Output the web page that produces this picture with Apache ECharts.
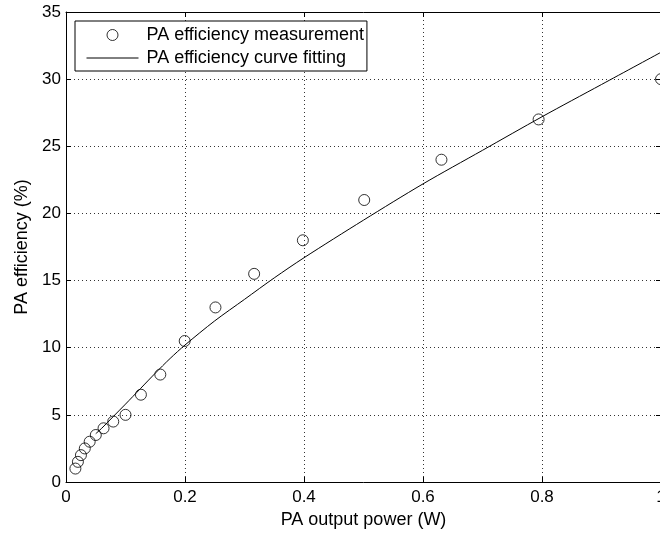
<!DOCTYPE html>
<html>
<head>
<meta charset="utf-8">
<script src="https://cdn.jsdelivr.net/npm/echarts@6/dist/echarts.min.js"></script>
<style>
  html, body { margin: 0; padding: 0; background: #fff; }
  #chart { width: 660px; height: 533px; }
</style>
</head>
<body>
<div id="chart"></div>
<script>
// Measured PA efficiency at each output power step (W, %)
const measPower = [0.0158, 0.0200, 0.0251, 0.0316, 0.0398, 0.0501, 0.0631, 0.0794, 0.1000,
                   0.1259, 0.1585, 0.1995, 0.2512, 0.3162, 0.3981, 0.5012, 0.6310, 0.7943, 1.0000];
const measEff = [1, 1.5, 2, 2.5, 3, 3.5, 4, 4.5, 5,
                 6.5, 8, 10.5, 13, 15.5, 18, 21, 24, 27, 30];

// Fitted efficiency curve samples (W, %)
const fitPower = [0.05, 0.06, 0.08, 0.10, 0.125, 0.15, 0.175, 0.20, 0.25, 0.30, 0.35,
                  0.40, 0.50, 0.60, 0.70, 0.80, 0.90, 1.00];
const fitEff = [3.6, 4.0, 4.9, 5.8, 6.95, 8.1, 9.2, 10.2, 12.0, 13.6, 15.2,
                16.7, 19.5, 22.2, 24.7, 27.2, 29.6, 32.0];

// Axis ticks
const xTicks = { min: 0, max: 1, interval: 0.2 };
const yTicks = { min: 0, max: 35, interval: 5 };

const seriesNames = ['PA efficiency measurement', 'PA efficiency curve fitting'];
const xTitle = 'PA output power (W)';
const yTitle = 'PA efficiency (%)';

const FONT = 'Liberation Sans, Arial, Helvetica, sans-serif';

const gridLine = { show: true, lineStyle: { color: '#333', width: 1, type: [1, 3] } };
const boxLine = { show: true, onZero: false, lineStyle: { color: '#000', width: 1 } };
const inTick = { show: true, inside: true, length: 5, lineStyle: { color: '#000', width: 1 } };

const chart = echarts.init(document.getElementById('chart'), null, { renderer: 'canvas' });

chart.setOption({
  backgroundColor: '#fff',
  animation: false,
  textStyle: { fontFamily: FONT },
  grid: { left: 66, top: 12, width: 595, height: 470, containLabel: false, outerBoundsMode: 'none' },
  legend: {
    orient: 'vertical',
    left: 75,
    top: 21,
    padding: [4, 3, 3, 11],
    itemGap: 3,
    itemWidth: 52,
    itemHeight: 11,
    borderColor: '#000',
    borderWidth: 1,
    backgroundColor: '#fff',
    selectedMode: false,
    textStyle: { fontFamily: FONT, fontSize: 18, color: '#000', lineHeight: 20, padding: [0, 0, 0, 3] },
    data: [
      { name: seriesNames[0], icon: 'circle',
        itemStyle: { color: 'rgba(0,0,0,0)', borderColor: '#000', borderWidth: 1 } },
      { name: seriesNames[1],
        itemStyle: { color: 'rgba(0,0,0,0)', borderColor: 'rgba(0,0,0,0)', borderWidth: 0 },
        lineStyle: { color: '#000', width: 1 } }
    ]
  },
  xAxis: [
    {
      type: 'value',
      position: 'bottom',
      min: xTicks.min, max: xTicks.max, interval: xTicks.interval,
      name: xTitle,
      nameLocation: 'middle',
      nameGap: 29,
      nameTextStyle: { fontFamily: FONT, fontSize: 18, color: '#000' },
      axisLine: boxLine,
      axisTick: inTick,
      axisLabel: { fontFamily: FONT, fontSize: 17, color: '#000', margin: 7 },
      splitLine: gridLine
    },
    {
      type: 'value',
      position: 'top',
      min: xTicks.min, max: xTicks.max, interval: xTicks.interval,
      axisLine: boxLine,
      axisTick: inTick,
      axisLabel: { show: false },
      splitLine: { show: false }
    }
  ],
  yAxis: [
    {
      type: 'value',
      position: 'left',
      min: yTicks.min, max: yTicks.max, interval: yTicks.interval,
      name: yTitle,
      nameLocation: 'middle',
      nameGap: 34,
      nameTextStyle: { fontFamily: FONT, fontSize: 18, color: '#000' },
      axisLine: boxLine,
      axisTick: inTick,
      axisLabel: { fontFamily: FONT, fontSize: 17, color: '#000', margin: 5 },
      splitLine: gridLine
    },
    {
      type: 'value',
      position: 'right',
      min: yTicks.min, max: yTicks.max, interval: yTicks.interval,
      axisLine: boxLine,
      axisTick: inTick,
      axisLabel: { show: false },
      splitLine: { show: false }
    }
  ],
  series: [
    {
      name: seriesNames[0],
      type: 'scatter',
      xAxisIndex: 0,
      yAxisIndex: 0,
      symbol: 'circle',
      symbolSize: 11,
      symbolKeepAspect: true,
      itemStyle: { color: 'rgba(0,0,0,0)', borderColor: '#000', borderWidth: 1 },
      data: measPower.map((p, i) => [p, measEff[i]]),
      z: 3
    },
    {
      name: seriesNames[1],
      type: 'line',
      xAxisIndex: 0,
      yAxisIndex: 0,
      smooth: 0.3,
      symbol: 'none',
      lineStyle: { color: '#000', width: 1 },
      itemStyle: { color: '#000' },
      data: fitPower.map((p, i) => [p, fitEff[i]]),
      z: 2
    }
  ]
});
</script>
</body>
</html>
